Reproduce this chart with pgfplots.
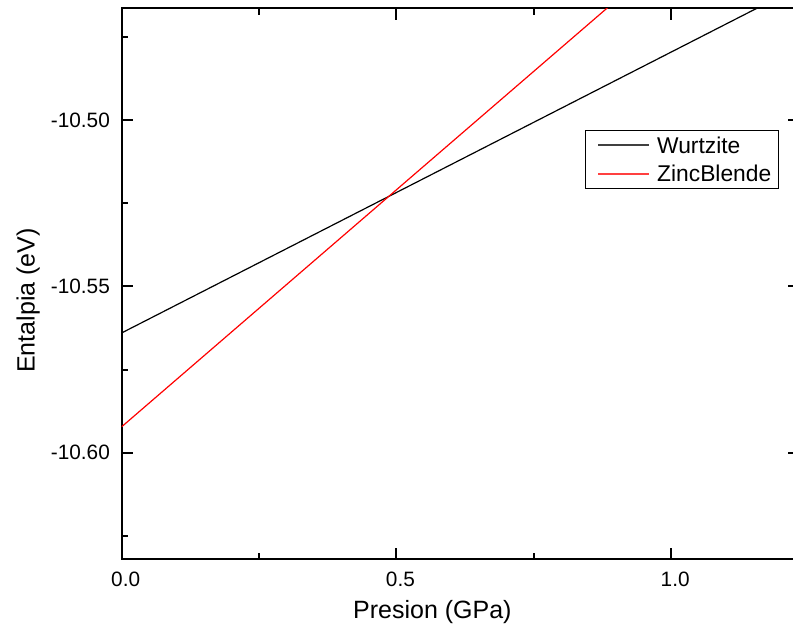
\documentclass[border=0pt]{standalone}
\usepackage{fontspec}
\setmainfont{Liberation Sans}
\usepackage{pgfplots}
\pgfplotsset{compat=1.18}
\newcommand{\legline}[1]{\hspace*{3pt}\textcolor{#1}{\rule[3.6pt]{25.5pt}{1pt}}\hspace*{3.85pt}}
\begin{document}
\begin{tikzpicture}
\begin{axis}[
  scale only axis,
  width=339.15pt, height=275.6pt,
  xmin=0, xmax=1.2344,
  ymin=-10.6321, ymax=-10.46643,
  xtick={0,0.5,1.0},
  minor xtick={0.25,0.75},
  ytick={-10.60,-10.55,-10.50},
  minor ytick={-10.625,-10.575,-10.525,-10.475},
  scaled x ticks=false, scaled y ticks=false,
  tick align=inside,
  major tick length=5.8pt,
  minor tick length=3.2pt,
  axis line style={line width=1pt},
  every tick/.style={black, line width=1pt},
  /pgf/number format/assume math mode=true,
  xticklabel style={/pgf/number format/fixed, /pgf/number format/fixed zerofill, /pgf/number format/precision=1,
    font=\fontsize{10.4}{12}\selectfont, yshift=-2.6pt, xshift=2pt},
  yticklabel style={/pgf/number format/fixed, /pgf/number format/fixed zerofill, /pgf/number format/precision=2,
    font=\fontsize{10.4}{12}\selectfont, xshift=-2.4pt},
  xlabel={Presion (GPa)},
  ylabel={Entalpia (eV)},
  every axis x label/.style={at={(axis description cs:0.458,-0.061)}, anchor=north, font=\fontsize{12.5}{14}\selectfont},
  every axis y label/.style={at={(axis description cs:-0.1104,0.47)}, anchor=south, rotate=90, font=\fontsize{12.5}{14}\selectfont},
  legend style={at={(axis description cs:0.683,0.7792)}, anchor=north west,
    inner xsep=1.5pt, inner ysep=1.4pt, draw=black, line width=0.5pt,
    nodes={inner sep=2pt, text height=8.2pt, text depth=0pt},
    row sep=1.95pt, column sep=0pt,
    font=\fontsize{11.4}{13}\selectfont},
  legend cell align=left,
  legend image code/.code={},
]
\addplot[black, line width=0.6pt] coordinates {(0,-10.5640) (1.2,-10.4627)};
\addlegendentry{\legline{black!75}Wurtzite}
\addplot[red, line width=0.6pt] coordinates {(0,-10.5922) (0.9,-10.4640)};
\addlegendentry{\legline{red!75}ZincBlende}
\end{axis}
\pgfresetboundingbox
\useasboundingbox (-60.85pt,-35.25pt) rectangle (335.65pt,279.75pt);
\end{tikzpicture}
\end{document}
